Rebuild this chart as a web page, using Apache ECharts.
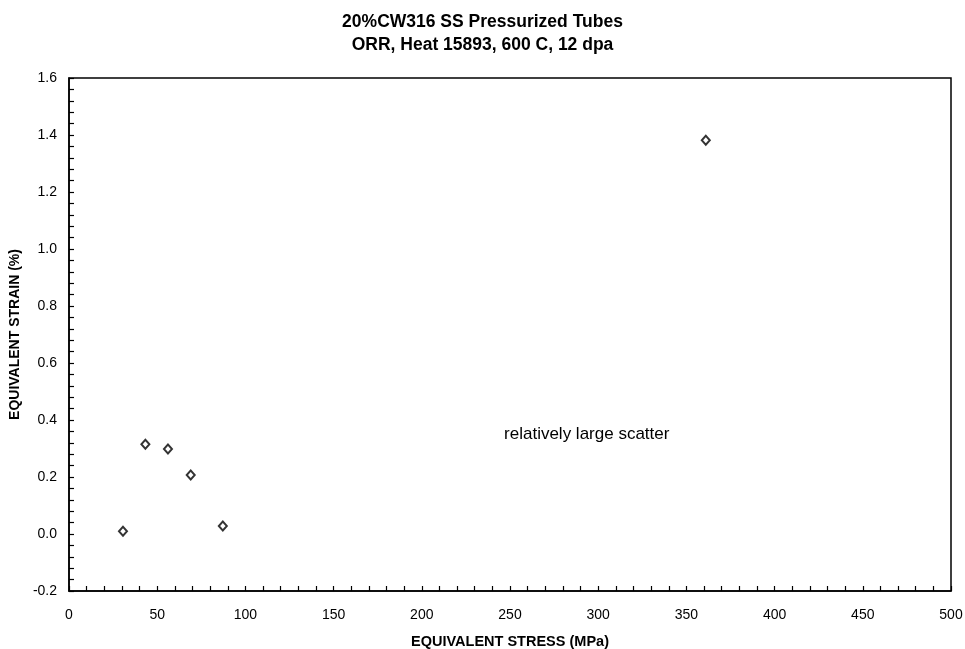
<!DOCTYPE html>
<html>
<head>
<meta charset="utf-8">
<script src="https://cdn.jsdelivr.net/npm/echarts@6/dist/echarts.min.js"></script>
<style>
  html, body { margin: 0; padding: 0; background: #fff; }
  #chart { width: 965px; height: 649px; }
</style>
</head>
<body>
<div id="chart"></div>
<script>
// data
const stress = [30.6, 43.3, 56.1, 69.0, 87.2, 361];
const strain = [0.01, 0.315, 0.298, 0.207, 0.028, 1.382];
const noteText = "relatively large scatter";
const notePos = [293.5, 0.35];

const points = stress.map((x, i) => [x, strain[i]]);

const chart = echarts.init(document.getElementById("chart"));
const font = "Arial, 'Liberation Sans', sans-serif";

chart.setOption({
  animation: false,
  title: {
    text: "20%CW316 SS Pressurized Tubes\nORR, Heat 15893, 600 C, 12 dpa",
    left: "center",
    top: 6,
    textStyle: { fontFamily: font, fontWeight: "bold", fontSize: 17.5, color: "#000", lineHeight: 23 },
  },
  grid: {
    left: 69,
    right: 14,
    top: 78,
    bottom: 58,
    outerBoundsMode: "none",
    show: true,
    borderColor: "#000",
    borderWidth: 1.5,
    backgroundColor: "#fff",
  },
  xAxis: {
    type: "value",
    min: 0,
    max: 500,
    interval: 50,
    name: "EQUIVALENT STRESS (MPa)",
    nameLocation: "middle",
    nameGap: 43,
    nameTextStyle: { fontFamily: font, fontWeight: "bold", fontSize: 14.5, color: "#000" },
    axisLine: { show: true, onZero: false, lineStyle: { color: "#000", width: 1.5 } },
    axisTick: { show: true, inside: true, length: 5, lineStyle: { color: "#000", width: 1.2 } },
    minorTick: { show: true, splitNumber: 5, length: 5, lineStyle: { color: "#000", width: 1.2 } },
    axisLabel: { fontFamily: font, fontSize: 14, color: "#000", margin: 17 },
    splitLine: { show: false },
  },
  yAxis: {
    type: "value",
    min: -0.2,
    max: 1.6,
    interval: 0.2,
    name: "EQUIVALENT STRAIN (%)",
    nameLocation: "middle",
    nameGap: 44,
    nameTextStyle: { fontFamily: font, fontWeight: "bold", fontSize: 14, color: "#000" },
    axisLine: { show: true, onZero: false, lineStyle: { color: "#000", width: 1.5 } },
    axisTick: { show: true, inside: true, length: 5, lineStyle: { color: "#000", width: 1.2 } },
    minorTick: { show: true, splitNumber: 5, length: 5, lineStyle: { color: "#000", width: 1.2 } },
    axisLabel: {
      fontFamily: font,
      fontSize: 14,
      color: "#000",
      margin: 12,
      formatter: (v) => v.toFixed(1),
    },
    splitLine: { show: false },
  },
  series: [
    {
      type: "scatter",
      data: points,
      symbol: "diamond",
      symbolSize: [8, 9],
      itemStyle: { color: "#fff", borderColor: "#000", borderWidth: 2 },
      markPoint: {
        symbol: "circle",
        symbolSize: 0,
        data: [{ coord: notePos, value: noteText }],
        label: {
          show: true,
          position: "inside",
          formatter: noteText,
          fontFamily: font,
          fontSize: 17,
          color: "#000",
        },
      },
    },
  ],
});
</script>
</body>
</html>
